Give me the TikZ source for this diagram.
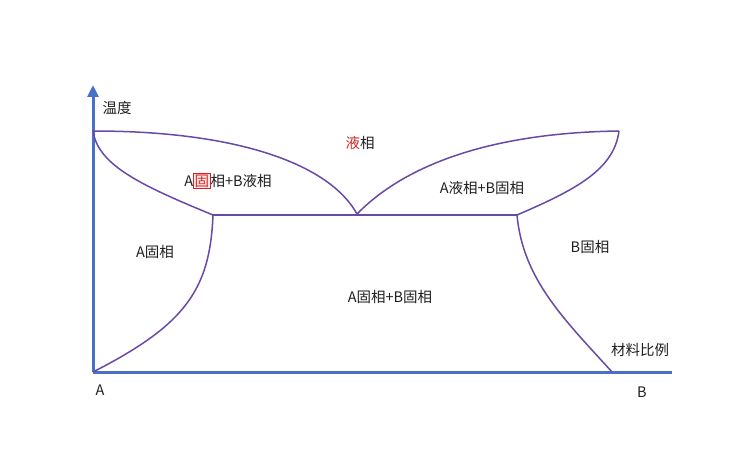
\documentclass[tikz,border=0pt]{standalone}
\usepackage{fontspec}
\setmainfont{Noto Sans CJK SC}
\usetikzlibrary{arrows.meta}
\definecolor{axisblue}{RGB}{74,114,196}
\definecolor{phaseline}{RGB}{104,74,166}
\definecolor{hotred}{RGB}{214,36,36}
\newcommand{\redbox}[1]{{\setlength\fboxsep{0.6pt}\setlength\fboxrule{0.8pt}\fcolorbox{hotred}{hotred!10}{\textcolor{hotred}{#1}}}}
\tikzset{
x=1pt, y=-1pt,
axis/.style={draw=axisblue,line width=3pt},
phase/.style={draw=phaseline,line width=1.5pt,line join=round},
region/.style={font=\fontsize{14.5}{16}\selectfont,text=black!88,inner sep=0pt},
}

\begin{document}
\begin{tikzpicture}
\useasboundingbox (0,0) rectangle (750,465);

% axes
\coordinate (O) at (93,372);
\coordinate (ytop) at (93,85);
\coordinate (xend) at (672,372);
\draw[axis,-{Triangle[width=11pt,length=12pt]}] (O) -- (ytop);
\draw[axis] (O) -- (xend);

% key points of the diagram
\coordinate (Lm) at (93,131);
\coordinate (Rm) at (619,131);
\coordinate (E) at (357,214);
\coordinate (Ea) at (213,215);
\coordinate (Eb) at (517,215);
\coordinate (Bx) at (612,372);

% liquidus and solidus
\draw[phase] (Lm) .. controls (240,131) and (330,165) .. (E);
\draw[phase] (Lm) .. controls (98,165) and (140,185) .. (Ea);
\draw[phase] (E) .. controls (400,170) and (480,133) .. (Rm);
\draw[phase] (Rm) .. controls (614,170) and (575,190) .. (Eb);
\draw[phase] (Ea) -- (Eb);

% solvus lines
\draw[phase] (Ea) .. controls (210,290) and (185,325) .. (O);
\draw[phase] (Eb) .. controls (523,280) and (565,320) .. (Bx);

% labels
\node[region] (temp) at (117,108) {温度};
\node[region] (ratio) at (640,350) {材料比例};
\node[region] (pA) at (100,390) {A};
\node[region] (pB) at (642,392) {B};
\node[region] (liq) at (360,143) {\textcolor{hotred}{液}相};
\node[region] (AsBl) at (228,181) {A\redbox{固}相+B液相};
\node[region] (AlBs) at (482,188) {A液相+B固相};
\node[region] (As) at (155,252) {A固相};
\node[region] (Bs) at (590,247) {B固相};
\node[region] (AsBs) at (390,297) {A固相+B固相};
\end{tikzpicture}
\end{document}
